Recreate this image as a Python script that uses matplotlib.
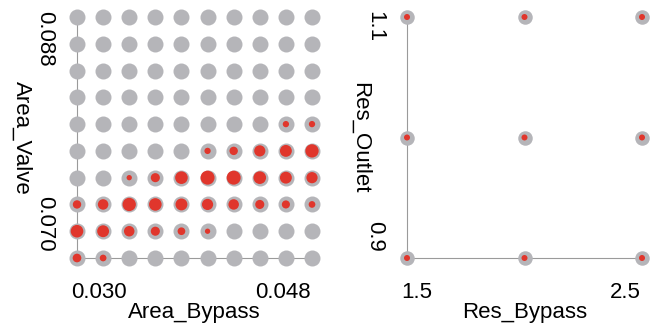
import matplotlib
matplotlib.use('Agg')
import matplotlib.pyplot as plt
from matplotlib.transforms import offset_copy
import numpy as np

# left panel grid
area_bypass = [0.030, 0.032, 0.034, 0.036, 0.038, 0.040, 0.042, 0.044, 0.046, 0.048]
area_valve = [0.088, 0.086, 0.084, 0.082, 0.080, 0.078, 0.076, 0.074, 0.072, 0.070]  # top -> bottom
# red weight per cell, rows follow area_valve
left_weight = [
    [0, 0, 0, 0, 0, 0, 0, 0, 0, 0],
    [0, 0, 0, 0, 0, 0, 0, 0, 0, 0],
    [0, 0, 0, 0, 0, 0, 0, 0, 0, 0],
    [0, 0, 0, 0, 0, 0, 0, 0, 0, 0],
    [0, 0, 0, 0, 0, 0, 0, 0, 0.45, 0.45],
    [0, 0, 0, 0, 0, 0.45, 0.6, 0.8, 0.85, 0.95],
    [0, 0, 0.38, 0.65, 0.9, 1.0, 1.0, 0.9, 0.85, 0.8],
    [0.6, 0.75, 0.95, 0.9, 0.85, 0.8, 0.75, 0.65, 0.58, 0.48],
    [0.9, 0.85, 0.75, 0.65, 0.55, 0.38, 0, 0, 0, 0],
    [0.62, 0.48, 0, 0, 0, 0, 0, 0, 0, 0],
]

# right panel grid
res_bypass = [1.5, 2.0, 2.5]
res_outlet = [1.1, 1.0, 0.9]
right_weight = [
    [0.43, 0.43, 0.43],
    [0.43, 0.43, 0.43],
    [0.43, 0.43, 0.43],
]

GRAY = '#b5b5b9'
RED = '#e0362c'
LINE = '#9a9a9a'
PX = 0.72  # points per pixel at 100 dpi
FS = 16

plt.rcParams['font.family'] = ['Liberation Sans', 'DejaVu Sans']

fig = plt.figure(figsize=(6.61, 3.30), dpi=100)
ax1 = fig.add_axes([77 / 661, 72 / 330, 235 / 661, 241 / 330])
ax2 = fig.add_axes([407 / 661, 72 / 330, 235 / 661, 241 / 330])


def draw(ax, xs, ys, weight, gray_px, red_px, xlabel, ylabel, xfmt, yfmt, ylab_x):
    X, Y = np.meshgrid(xs, ys)
    W = np.array(weight, dtype=float).ravel()
    X = X.ravel()
    Y = Y.ravel()
    ax.scatter(X, Y, s=(gray_px * PX) ** 2, color=GRAY, lw=0, clip_on=False, zorder=3)
    m = W > 0
    ax.scatter(X[m], Y[m], s=(W[m] * red_px * PX) ** 2, color=RED, lw=0,
               clip_on=False, zorder=4)
    x0, x1 = min(xs), max(xs)
    y0, y1 = min(ys), max(ys)
    ax.set_xlim(x0, x1)
    ax.set_ylim(y0, y1)
    for s in ['top', 'right']:
        ax.spines[s].set_visible(False)
    for s in ['left', 'bottom']:
        ax.spines[s].set_color(LINE)
        ax.spines[s].set_linewidth(0.8)
    ax.set_xticks([])
    ax.set_yticks([])

    # end labels of the range frame, pulled inward
    xtr = ax.get_xaxis_transform()
    ax.text(x0, 0, xfmt % x0, ha='left', va='top', fontsize=FS,
            transform=offset_copy(xtr, fig=fig, x=-6, y=-24, units='dots'))
    ax.text(x1, 0, xfmt % x1, ha='right', va='top', fontsize=FS,
            transform=offset_copy(xtr, fig=fig, x=-1, y=-24, units='dots'))
    ytr = ax.get_yaxis_transform()
    ax.text(0, y1, yfmt % y1, ha='right', va='top', rotation=270, fontsize=FS,
            transform=offset_copy(ytr, fig=fig, x=-22, y=6, units='dots'))
    ax.text(0, y0, yfmt % y0, ha='right', va='bottom', rotation=270, fontsize=FS,
            transform=offset_copy(ytr, fig=fig, x=-22, y=6, units='dots'))

    ax.set_xlabel(xlabel, fontsize=FS, va='center')
    ax.xaxis.set_label_coords(0.5, -0.228)
    ax.set_ylabel(ylabel, fontsize=FS, rotation=270, va='center', ha='center')
    ax.yaxis.set_label_coords(ylab_x, 0.5)


draw(ax1, area_bypass, area_valve, left_weight, 16, 14,
     'Area_Bypass', 'Area_Valve', '%.3f', '%.3f', -0.234)
draw(ax2, res_bypass, res_outlet, right_weight, 14.5, 14,
     'Res_Bypass', 'Res_Outlet', '%.1f', '%.1f', -0.2)

fig.savefig('out.png', dpi=100)
plt.close()
